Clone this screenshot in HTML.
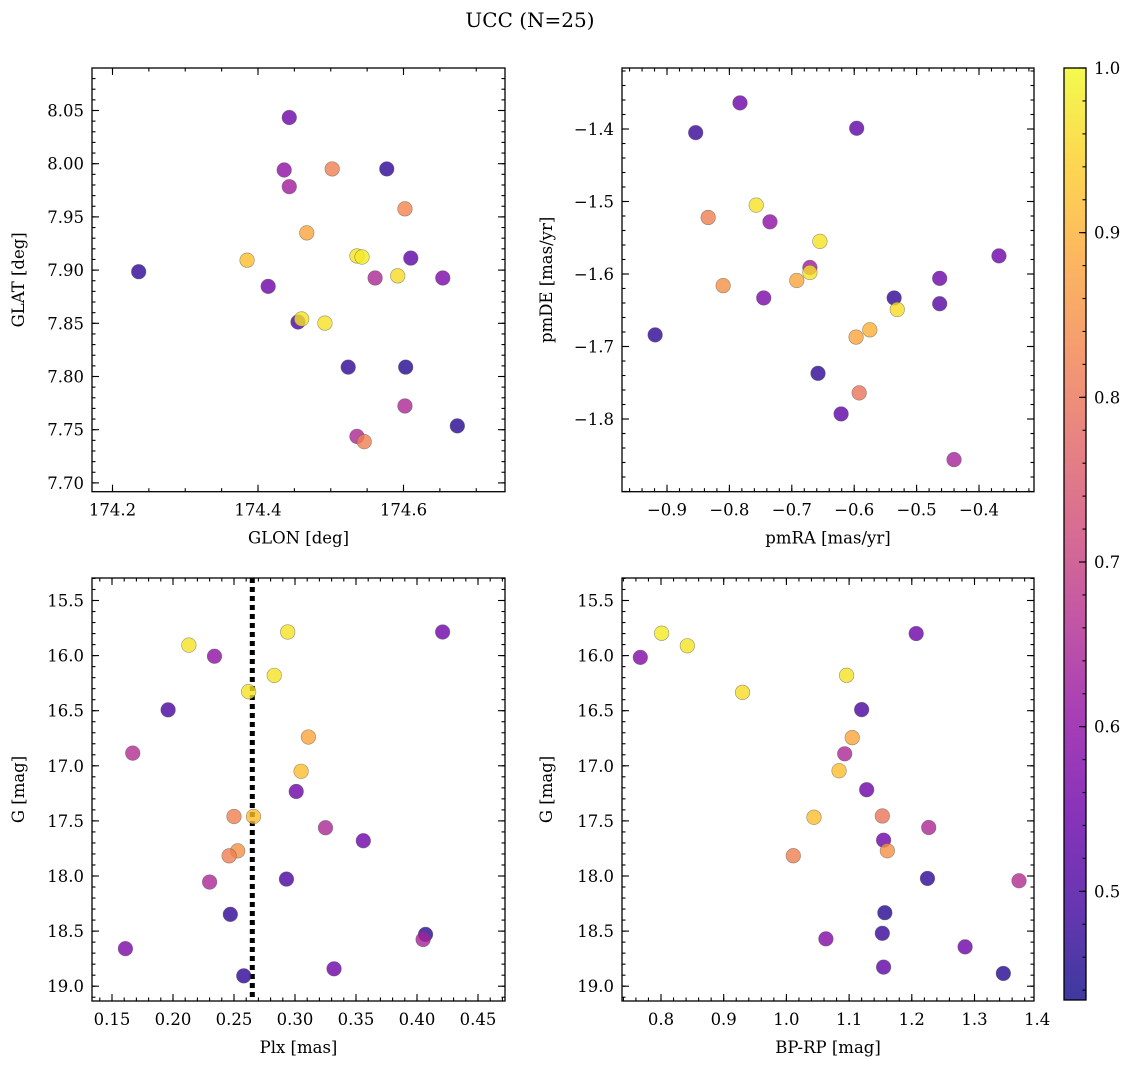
<!DOCTYPE html>
<html><head><meta charset="utf-8"><style>
html,body{margin:0;padding:0;background:#fff;}
svg{display:block;font-family:"DejaVu Serif","Liberation Serif",serif;}
</style></head><body>
<svg id="fig" width="1136" height="1068" viewBox="0 0 1136 1068" xmlns="http://www.w3.org/2000/svg">
<defs>
<linearGradient id="plasma" x1="0" y1="1" x2="0" y2="0"></linearGradient>
</defs>
<text x="530" y="27" font-size="20" text-anchor="middle">UCC (N=25)</text>
</svg>
<script>
// ---- data ----
const glon = [174.236,174.443,174.436,174.502,174.577,174.443,174.602,174.467,174.385,174.536,174.543,174.610,174.592,174.561,174.654,174.414,174.455,174.460,174.492,174.524,174.603,174.602,174.536,174.546,174.674];
const glat = [7.8985,8.0434,7.9941,7.9951,7.9951,7.9784,7.9576,7.9350,7.9093,7.9133,7.9123,7.9113,7.8946,7.8926,7.8926,7.8847,7.8512,7.8541,7.8502,7.8088,7.8088,7.7723,7.7437,7.7388,7.7536];
const probGal = [0.47,0.55,0.60,0.82,0.47,0.63,0.83,0.88,0.92,0.97,0.98,0.53,0.96,0.65,0.57,0.55,0.50,0.97,0.97,0.47,0.46,0.65,0.65,0.82,0.46];

const pmra = [-0.783,-0.854,-0.596,-0.757,-0.834,-0.735,-0.655,-0.368,-0.671,-0.671,-0.692,-0.463,-0.810,-0.536,-0.745,-0.463,-0.531,-0.919,-0.575,-0.597,-0.658,-0.592,-0.621,-0.440];
const pmde = [-1.364,-1.405,-1.399,-1.505,-1.522,-1.528,-1.555,-1.575,-1.591,-1.598,-1.609,-1.606,-1.616,-1.633,-1.633,-1.641,-1.649,-1.684,-1.677,-1.687,-1.737,-1.764,-1.793,-1.856];
const probPm = [0.55,0.48,0.53,0.97,0.82,0.60,0.97,0.55,0.63,0.97,0.88,0.55,0.85,0.47,0.57,0.52,0.96,0.47,0.90,0.88,0.47,0.80,0.53,0.64];

const plx = [0.421,0.294,0.213,0.234,0.283,0.262,0.196,0.167,0.311,0.305,0.301,0.250,0.266,0.325,0.356,0.253,0.246,0.293,0.230,0.247,0.407,0.405,0.161,0.332,0.258];
const gPlx = [15.786,15.786,15.905,16.006,16.180,16.327,16.492,16.885,16.739,17.050,17.233,17.460,17.460,17.562,17.680,17.772,17.817,18.028,18.055,18.348,18.530,18.576,18.659,18.842,18.906];
const probPlx = [0.55,0.97,0.97,0.60,0.97,0.97,0.50,0.66,0.88,0.92,0.55,0.82,0.92,0.65,0.55,0.85,0.82,0.50,0.65,0.47,0.47,0.64,0.57,0.55,0.47];
const plxLine = 0.265;

const bprp = [0.767,0.801,0.842,0.930,1.096,1.207,1.120,1.105,1.093,1.084,1.128,1.044,1.153,1.227,1.155,1.161,1.011,1.225,1.371,1.157,1.153,1.063,1.285,1.155,1.346];
const gCmd = [16.016,15.797,15.911,16.334,16.179,15.800,16.490,16.744,16.891,17.045,17.217,17.467,17.455,17.560,17.675,17.771,17.816,18.022,18.043,18.333,18.520,18.570,18.643,18.827,18.884];
const probCmd = [0.58,0.98,0.97,0.96,0.97,0.55,0.50,0.88,0.65,0.92,0.55,0.92,0.80,0.65,0.55,0.85,0.82,0.47,0.66,0.46,0.48,0.58,0.55,0.53,0.46];

const cbarTicks = [0.5,0.6,0.7,0.8,0.9,1.0];
const pMin = 0.434, pMax = 1.0;

// ---- helpers ----
const NS = "http://www.w3.org/2000/svg";
const svg = document.getElementById('fig');
function mk(tag, attrs, parent){ const e=document.createElementNS(NS,tag); for(const k in attrs) e.setAttribute(k,attrs[k]); (parent||svg).appendChild(e); return e; }
const stops = [[13,8,135],[65,4,157],[106,0,168],[143,13,164],[177,42,144],[204,71,120],[225,100,98],[242,132,75],[252,166,54],[252,206,37],[240,249,33]];
function plasma(t){ t=Math.max(0,Math.min(1,t)); const f=t*10, i=Math.min(9,Math.floor(f)), r=f-i; const a=stops[i], b=stops[i+1];
  return 'rgb('+a.map((v,k)=>Math.round(v+(b[k]-v)*r)).join(',')+')'; }
function pnorm(p){ return (p-pMin)/(pMax-pMin); }

function panel(cfg){
  const g = mk('g',{});
  
  
  const sx = v => cfg.x0px + (v-cfg.x0)*cfg.xs;
  const sy = v => cfg.y0px + (v-cfg.y0)*cfg.ys;
  const L=cfg.L, R=cfg.R, T=cfg.T, B=cfg.B;
  const tk = mk('g',{stroke:'#000','stroke-width':1.1}, g);
  
  
  const eps=1e-9;
  function xt(step, len){ let s=Math.ceil((cfg.xmin())/step-eps); for(let v=s*step; sx(v)<=R+0.5; v=(++s)*step){ const x=sx(v); if(x<L-0.5) continue; mk('line',{x1:x,x2:x,y1:B,y2:B-len},tk); mk('line',{x1:x,x2:x,y1:T,y2:T+len},tk);} }
  function yt(step, len){ const a=Math.min(cfg.ymin(),cfg.ymax()), b=Math.max(cfg.ymin(),cfg.ymax()); let s=Math.ceil(a/step-eps); for(let v=s*step; v<=b+eps; v=(++s)*step){ const y=sy(v); if(y<T-0.5||y>B+0.5) continue; mk('line',{x1:L,x2:L+len,y1:y,y2:y},tk); mk('line',{x1:R,x2:R-len,y1:y,y2:y},tk);} }
  xt(cfg.xminor,3.5); xt(cfg.xmajor,7); yt(cfg.yminor,3.5); yt(cfg.ymajor,7);
  cfg.xlabels.forEach(v=>{ const t=mk('text',{x:sx(v),y:B+24,'font-size':16.5,'text-anchor':'middle'},g); t.textContent=cfg.fmtx(v);
      });
  cfg.ylabels.forEach(v=>{ const t=mk('text',{x:L-8,y:sy(v)+6,'font-size':16.5,'text-anchor':'end'},g); t.textContent=cfg.fmty(v);
      });
  const xtl = mk('text',{x:(L+R)/2,y:B+52,'font-size':16.5,'text-anchor':'middle'},g); xtl.textContent=cfg.xtitle;
   
  const ytl = mk('text',{x:0,y:0,'font-size':16.5,'text-anchor':'middle',transform:'translate('+cfg.ytx+','+((T+B)/2)+') rotate(-90)'},g); ytl.textContent=cfg.ytitle;
   
  if(cfg.vline!==undefined){ const ln=mk('line',{x1:sx(cfg.vline),x2:sx(cfg.vline),y1:T,y2:B,stroke:'#000','stroke-width':5,'stroke-dasharray':'5 4'},g);
      }
  cfg.xs_.forEach((xv,i)=>{ const c=mk('circle',{cx:sx(xv),cy:sy(cfg.ys_[i]),r:7.3,fill:plasma(pnorm(cfg.p[i])),'fill-opacity':0.8,stroke:'#555','stroke-opacity':0.6,'stroke-width':0.6},g);
      });
  const fr = mk('rect',{x:L,y:T,width:R-L,height:B-T,fill:'none',stroke:'#000','stroke-width':1.3},g);
   
}

function mkcfg(o){ o.xmin=()=>o.x0+(o.L-o.x0px)/o.xs; o.ymin=()=>o.y0+(o.T-o.y0px)/o.ys; o.ymax=()=>o.y0+(o.B-o.y0px)/o.ys; return o; }
const minus = s => s.replace('-','\u2212');

panel(mkcfg({name:'glon-glat-panel',L:92,R:505,T:68,B:491.7,x0:174.2,x0px:112.5,xs:727.5,y0:8.05,y0px:110.5,ys:-1064,
  xminor:0.05,xmajor:0.2,yminor:0.01,ymajor:0.05,xlabels:[174.2,174.4,174.6],ylabels:[7.70,7.75,7.80,7.85,7.90,7.95,8.00,8.05],
  fmtx:v=>v.toFixed(1),fmty:v=>v.toFixed(2),xtitle:'GLON [deg]',ytitle:'GLAT [deg]',ytx:24,xs_:glon,ys_:glat,p:probGal}));
panel(mkcfg({name:'proper-motion-panel',L:622,R:1034,T:68,B:491.7,x0:-0.9,x0px:667,xs:624,y0:-1.4,y0px:129,ys:-725,
  xminor:0.02,xmajor:0.1,yminor:0.02,ymajor:0.1,xlabels:[-0.9,-0.8,-0.7,-0.6,-0.5,-0.4],ylabels:[-1.8,-1.7,-1.6,-1.5,-1.4],
  fmtx:v=>minus(v.toFixed(1)),fmty:v=>minus(v.toFixed(1)),xtitle:'pmRA [mas/yr]',ytitle:'pmDE [mas/yr]',ytx:552,xs_:pmra,ys_:pmde,p:probPm}));
panel(mkcfg({name:'parallax-magnitude-panel',L:92,R:505,T:578,B:1001,x0:0.15,x0px:112,xs:1220,y0:15.5,y0px:600.5,ys:110.2,
  xminor:0.01,xmajor:0.05,yminor:0.1,ymajor:0.5,xlabels:[0.15,0.20,0.25,0.30,0.35,0.40,0.45],ylabels:[15.5,16,16.5,17,17.5,18,18.5,19],
  fmtx:v=>v.toFixed(2),fmty:v=>v.toFixed(1),xtitle:'Plx [mas]',ytitle:'G [mag]',ytx:24,xs_:plx,ys_:gPlx,p:probPlx,vline:plxLine}));
panel(mkcfg({name:'color-magnitude-panel',L:622,R:1034,T:578,B:1001,x0:0.8,x0px:661,xs:627,y0:15.5,y0px:600.5,ys:110.2,
  xminor:0.02,xmajor:0.1,yminor:0.1,ymajor:0.5,xlabels:[0.8,0.9,1.0,1.1,1.2,1.3,1.4],ylabels:[15.5,16,16.5,17,17.5,18,18.5,19],
  fmtx:v=>v.toFixed(1),fmty:v=>v.toFixed(1),xtitle:'BP-RP [mag]',ytitle:'G [mag]',ytx:552,xs_:bprp,ys_:gCmd,p:probCmd}));

// ---- colorbar ----
const grad = document.getElementById('plasma');
for(let i=0;i<=10;i++){ mk('stop',{offset:(i/10),'stop-color':plasma(i/10),'stop-opacity':0.8},grad); }
const cbT=68, cbB=1000, cbL=1064, cbR=1086;
const cy = v => cbB - (v-pMin)/(pMax-pMin)*(cbB-cbT);
const cb = mk('g',{});


mk('rect',{x:cbL,y:cbT,width:cbR-cbL,height:cbB-cbT,fill:'url(#plasma)'},cb);
for(let k=Math.ceil(pMin/0.02-1e-9); k*0.02<=pMax+1e-9; k++){ const y=cy(k*0.02); mk('line',{x1:cbR,x2:cbR-3.5,y1:y,y2:y,stroke:'#000','stroke-width':1.1},cb); }
cbarTicks.forEach(v=>{ const y=cy(v); mk('line',{x1:cbR,x2:cbR-7,y1:y,y2:y,stroke:'#000','stroke-width':1.1},cb);
  const t=mk('text',{x:1094,y:y+6,'font-size':16.5},cb); t.textContent=v.toFixed(1);
    });
mk('rect',{x:cbL,y:cbT,width:cbR-cbL,height:cbB-cbT,fill:'none',stroke:'#000','stroke-width':1.3},cb);
</script>
</body></html>
